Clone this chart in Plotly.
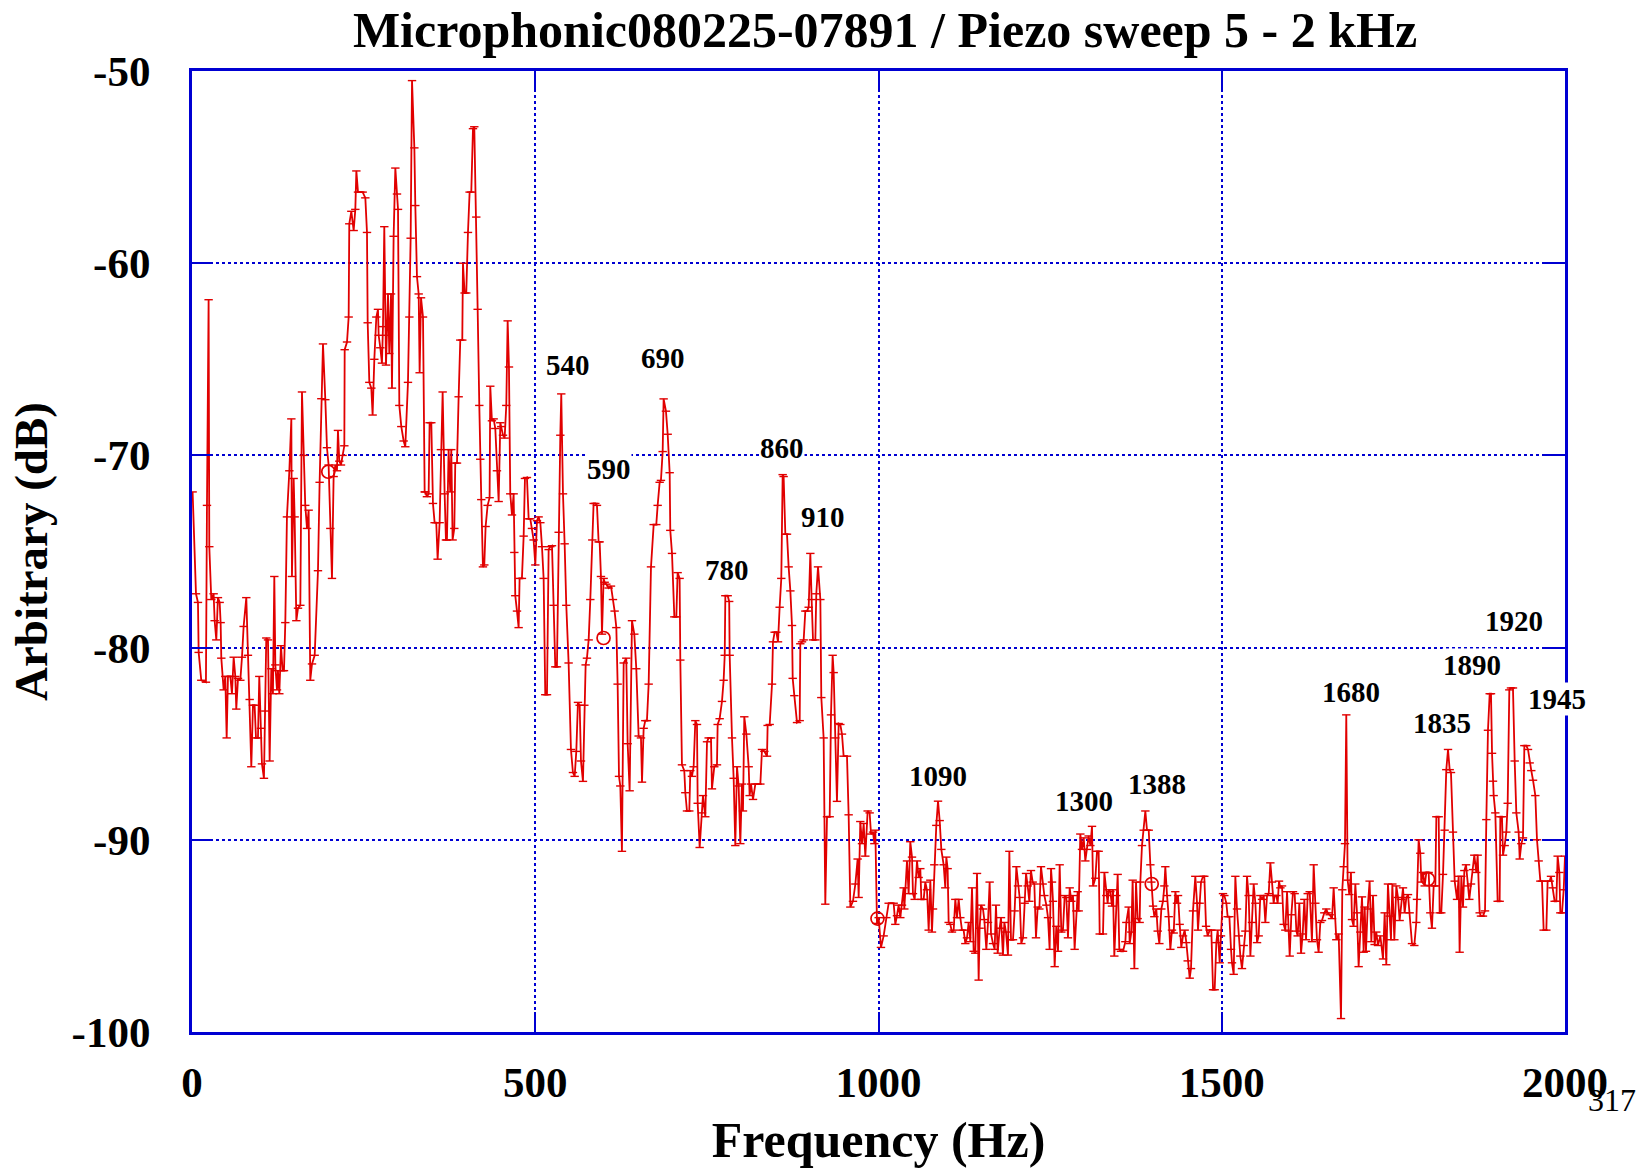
import plotly.graph_objects as go

# ---- data (frequency Hz, level dB) ----
seg_0_340 = [
    (0.9, -71.9), (5.8, -77.2), (8.7, -77.65), (9.7, -80.25), (13.5, -81.7), (20.3, -81.8),
    (21.8, -72.6), (24.2, -61.9), (25.2, -74.75), (28.1, -77.5), (31.5, -77.2), (33.0, -78.6),
    (35.4, -79.6), (37.8, -77.4), (40.3, -77.65), (41.7, -78.7), (42.7, -80.55), (46.1, -82.2),
    (48.5, -81.5), (50.5, -84.7), (52.4, -81.5), (55.8, -81.5), (58.2, -82.4), (60.7, -80.5),
    (63.1, -81.5), (64.5, -83.2), (67.0, -81.6), (70.4, -81.7), (72.8, -80.5), (75.2, -78.9),
    (79.1, -77.4), (81.5, -80.4), (84.0, -82.7), (86.4, -86.2), (88.8, -83.0), (91.2, -83.0),
    (93.2, -84.7), (96.1, -84.7), (98.0, -81.5), (100.5, -84.2), (101.9, -86.05), (104.8, -86.8),
    (106.8, -83.3), (108.2, -79.5), (110.7, -79.6), (113.1, -85.9), (115.5, -81.1), (117.9, -82.4),
    (119.9, -76.3), (121.4, -80.9), (123.8, -82.2), (125.2, -81.2), (127.2, -82.4), (129.6, -79.9),
    (132.0, -81.2), (134.0, -81.2), (135.9, -78.7), (138.3, -73.2), (141.8, -70.8), (144.7, -68.1),
    (145.6, -76.3), (148.1, -71.2), (149.5, -73.2), (152.0, -78.6), (154.4, -77.95), (157.8, -77.8),
    (160.2, -66.7), (162.6, -70.0), (165.0, -72.6), (167.5, -73.8), (169.9, -72.85), (172.3, -81.7),
    (174.8, -80.85), (178.7, -80.4), (183.5, -76.0), (185.9, -71.4), (188.4, -67.05), (190.8, -64.2),
    (194.2, -67.1), (196.6, -69.6), (199.0, -70.5), (201.5, -73.8), (203.9, -76.4), (206.3, -71.1),
    (208.8, -70.5), (211.2, -70.8), (212.6, -68.7), (214.6, -70.3), (217.0, -70.5), (219.4, -70.0),
    (221.9, -69.5), (222.4, -64.5), (225.8, -64.1), (228.2, -62.8), (229.1, -57.95), (232.1, -57.3),
    (235.5, -58.3), (237.9, -57.2), (239.4, -55.2), (241.8, -56.3), (245.2, -56.3), (248.6, -56.3),
    (252.5, -56.6), (254.9, -58.4), (255.9, -63.1), (258.3, -66.2), (261.2, -66.5), (263.1, -67.9),
    (265.6, -65.0), (268.5, -62.8), (270.9, -62.4), (271.9, -63.75), (274.3, -64.4), (276.7, -65.2),
    (278.2, -63.3), (280.1, -58.1), (282.6, -65.3), (284.0, -63.75), (285.5, -61.6), (287.4, -64.7),
    (289.9, -61.6), (291.3, -66.5), (293.7, -58.6), (296.2, -55.05), (298.6, -56.4), (300.1, -57.2),
    (302.0, -67.4), (304.9, -68.5), (308.3, -69.25), (310.7, -69.55), (314.6, -66.2), (316.6, -62.8),
    (318.5, -58.7), (320.5, -50.5), (323.9, -54.0), (325.3, -57.0), (327.7, -60.7), (330.2, -61.6),
    (331.6, -65.7), (333.6, -61.8), (336.5, -62.8), (338.9, -71.9),
]

seg_340_627 = [
    (339.8, -71.9), (342.2, -72.15), (344.7, -72.0), (346.1, -68.3), (348.6, -68.3), (351.0, -72.5),
    (353.4, -73.5), (355.8, -73.5), (357.8, -75.4), (360.7, -73.5), (362.6, -69.7), (365.1, -66.7),
    (368.0, -72.0), (369.9, -74.4), (371.4, -74.4), (373.8, -69.7), (376.2, -71.9), (377.7, -69.7),
    (379.6, -74.4), (382.1, -73.8), (383.5, -70.4), (386.0, -70.4), (388.4, -66.95), (390.8, -64.0),
    (393.7, -64.0), (394.7, -60.0), (397.1, -61.55), (399.5, -61.55), (402.0, -58.4), (404.4, -56.3),
    (406.8, -56.3), (409.3, -53.0), (411.2, -52.9), (414.1, -57.6), (416.1, -62.4), (418.5, -67.4),
    (419.9, -70.2), (421.4, -72.3), (423.8, -75.8), (425.8, -75.7), (427.7, -73.7), (430.6, -72.6),
    (433.5, -72.2), (434.5, -66.4), (436.9, -68.2), (439.4, -68.1), (441.8, -68.6), (444.2, -70.8),
    (446.7, -72.4), (449.1, -68.3), (450.5, -68.5), (453.0, -68.95), (455.4, -69.1), (457.8, -67.4),
    (459.8, -63.0), (461.7, -65.4), (463.6, -72.0), (466.1, -73.1), (468.5, -72.0), (469.5, -75.05),
    (470.9, -77.3), (473.4, -78.1), (475.8, -78.96), (477.2, -76.4), (480.6, -76.4), (483.1, -74.2),
    (485.0, -71.2), (487.9, -71.15), (490.4, -73.3), (492.8, -73.3), (495.2, -73.8), (497.6, -74.4),
    (500.1, -75.7), (502.5, -73.4), (504.9, -73.2), (507.4, -73.5), (509.8, -74.75), (512.2, -76.4),
    (514.6, -82.45), (517.1, -82.45), (519.5, -74.9), (521.9, -74.75), (524.4, -74.7), (526.8, -77.8),
    (529.2, -81.0), (531.6, -81.0), (534.1, -74.0), (536.5, -68.95), (537.9, -66.8), (540.4, -72.0),
    (542.8, -74.6), (545.2, -77.8), (548.6, -80.8), (552.0, -85.3), (554.9, -86.5), (557.4, -86.7),
    (559.8, -85.4), (562.2, -82.85), (564.7, -83.0), (566.6, -85.9), (569.5, -86.96), (571.5, -83.0),
    (573.4, -80.9), (575.3, -80.55), (577.8, -79.6), (580.2, -77.5), (583.1, -74.4), (585.0, -72.5),
    (587.5, -72.5), (589.9, -72.6), (592.3, -74.5), (593.8, -74.5), (595.7, -76.3), (597.2, -79.3),
    (599.6, -76.4), (601.1, -76.6), (603.5, -76.7), (606.9, -76.9), (610.3, -76.8), (613.2, -77.5),
    (615.6, -78.1), (618.1, -78.96), (620.0, -81.9), (622.0, -86.7), (623.9, -87.2), (626.3, -90.6),
]

seg_628_1000 = [
    (628.8, -80.8), (632.6, -80.55), (634.6, -85.0), (637.5, -87.45), (640.9, -78.6), (644.3, -79.3),
    (647.2, -81.1), (650.6, -84.6), (654.0, -84.7), (655.5, -87.0), (657.9, -84.2), (660.3, -83.8),
    (662.7, -83.8), (665.2, -81.9), (668.6, -75.8), (672.5, -73.6), (676.3, -73.6), (678.3, -72.6),
    (681.2, -71.4), (683.1, -71.3), (685.6, -69.8), (687.0, -67.06), (690.4, -67.7), (692.9, -68.9),
    (695.8, -70.9), (696.7, -73.9), (699.2, -75.1), (702.6, -78.4), (705.5, -78.4), (707.4, -76.1),
    (710.3, -76.4), (711.3, -80.65), (713.7, -86.1), (717.1, -86.4), (718.6, -87.55), (721.0, -88.5),
    (724.4, -88.5), (725.9, -86.4), (728.3, -86.7), (730.7, -86.2), (733.2, -83.8), (735.6, -84.0),
    (736.6, -88.1), (739.5, -90.4), (742.9, -88.6), (744.3, -87.7), (747.7, -88.8), (750.2, -84.9),
    (752.6, -84.7), (756.0, -84.7), (757.4, -87.35), (760.8, -86.2), (764.7, -86.1), (765.7, -84.0),
    (768.6, -83.7), (772.0, -82.8), (774.4, -81.7), (776.0, -80.4), (776.9, -77.3), (780.3, -77.3),
    (782.5, -77.6), (783.2, -80.4), (786.6, -84.7), (789.0, -86.8), (791.4, -90.3), (793.9, -86.2),
    (796.3, -87.2), (798.7, -90.2), (801.1, -87.1), (802.6, -88.5), (804.5, -83.6), (807.5, -84.5),
    (810.9, -86.2), (812.3, -87.7), (814.3, -87.1), (817.2, -87.9), (820.6, -87.1), (824.0, -87.1),
    (827.9, -87.1), (830.3, -85.3), (833.7, -85.4), (837.6, -85.65), (838.5, -84.05), (841.5, -84.0),
    (844.9, -81.9), (846.3, -79.7), (848.7, -79.2), (851.2, -79.2), (853.6, -79.7), (856.0, -77.9),
    (858.4, -76.4), (860.4, -71.0), (861.8, -71.1), (864.3, -74.1), (866.7, -74.1), (869.1, -75.8),
    (871.6, -77.05), (874.0, -78.85), (875.0, -81.6), (877.4, -82.5), (881.3, -83.9), (885.2, -83.8),
    (886.1, -79.8), (888.6, -79.7), (891.0, -79.6), (893.4, -78.1), (895.8, -78.1), (898.3, -77.9),
    (900.7, -75.1), (902.6, -77.5), (904.6, -79.6), (908.0, -79.6), (909.4, -77.2), (911.9, -75.8),
    (915.3, -77.5), (916.7, -82.6), (920.1, -84.7), (922.5, -93.35), (925.0, -88.8), (928.9, -88.8),
    (930.8, -83.5), (933.2, -80.4), (934.7, -81.3), (937.1, -84.7), (939.5, -88.0), (942.0, -83.95),
    (944.4, -84.0), (946.8, -84.5), (949.2, -85.65), (954.1, -85.65), (956.5, -88.7), (959.0, -93.5),
    (962.8, -93.2), (966.3, -92.3), (969.6, -91.0), (971.1, -93.0), (973.5, -89.05), (976.0, -90.2),
    (978.4, -89.15), (980.8, -90.85), (984.2, -88.5), (987.1, -88.6), (989.1, -89.7), (992.0, -89.6),
    (994.0, -90.2), (995.4, -89.5), (997.8, -94.35),
]

seg_1000_1292 = [
    (1000.2, -94.05), (1003.6, -95.6), (1007.5, -95.0), (1011.4, -94.05), (1014.8, -93.3),
    (1022.1, -93.3), (1024.5, -94.4), (1026.9, -93.95), (1029.3, -93.4), (1031.8, -94.05),
    (1034.2, -93.4), (1036.6, -92.5), (1037.6, -93.6), (1041.5, -91.1), (1043.9, -92.8),
    (1046.3, -90.1), (1048.8, -90.9), (1050.2, -92.8), (1052.7, -93.1), (1056.1, -91.1),
    (1058.5, -91.96), (1060.9, -91.5), (1062.4, -93.1), (1065.8, -93.1), (1068.2, -92.2),
    (1070.6, -92.6), (1073.1, -94.7), (1075.5, -92.1), (1077.9, -94.8), (1079.4, -93.6),
    (1081.3, -91.3), (1084.2, -89.25), (1086.7, -87.99), (1089.1, -89.0), (1091.5, -90.5),
    (1094.9, -91.3), (1097.3, -92.5), (1098.8, -90.9), (1100.7, -91.5), (1102.2, -94.3),
    (1104.6, -94.4), (1107.0, -94.8), (1109.5, -94.7), (1111.9, -93.1), (1114.3, -94.05),
    (1116.8, -93.1), (1119.2, -94.05), (1121.6, -94.7), (1124.0, -94.7), (1126.5, -95.4),
    (1128.9, -95.1), (1131.3, -94.3), (1133.8, -95.3), (1136.2, -92.5), (1138.6, -95.8),
    (1141.0, -95.9), (1143.5, -91.75), (1145.9, -97.3), (1147.3, -94.6), (1149.3, -93.4),
    (1152.2, -93.6), (1154.1, -94.15), (1157.1, -95.7), (1159.5, -94.3), (1161.9, -92.2),
    (1163.9, -94.9), (1166.8, -95.4), (1169.2, -95.7), (1171.1, -93.4), (1173.6, -95.9),
    (1176.5, -94.6), (1178.4, -94.05), (1181.3, -96.0), (1183.3, -94.3), (1185.7, -94.8),
    (1188.6, -96.0), (1190.6, -90.6), (1193.0, -95.2), (1195.9, -95.2), (1198.3, -93.7),
    (1200.8, -91.4), (1203.2, -92.4), (1205.6, -93.0), (1208.0, -95.4), (1210.5, -95.1),
    (1212.9, -93.3), (1214.9, -91.75), (1217.3, -92.4), (1219.7, -93.2), (1222.1, -91.6),
    (1224.6, -92.2), (1227.0, -92.3), (1229.4, -95.1), (1231.9, -93.5), (1234.3, -93.6),
    (1236.7, -91.4), (1239.1, -92.3), (1241.6, -92.9), (1244.5, -93.4), (1246.9, -94.05),
    (1249.3, -95.7), (1251.3, -91.5), (1252.7, -92.2), (1254.2, -93.2), (1256.6, -96.6),
    (1259.0, -94.5), (1261.5, -95.8), (1263.9, -91.3), (1266.3, -94.8), (1268.7, -94.7),
    (1271.2, -92.9), (1273.6, -93.0), (1276.0, -95.1), (1278.5, -92.5), (1280.9, -93.2),
    (1283.3, -92.9), (1285.7, -95.7), (1288.2, -93.7), (1290.1, -92.7), (1291.6, -93.7),
]

seg_1294_1628 = [
    (1294.0, -89.7), (1296.4, -90.5), (1298.9, -89.9), (1301.3, -91.1), (1303.7, -90.5),
    (1306.1, -89.8), (1308.6, -90.3), (1311.0, -89.3), (1312.5, -92.4), (1315.9, -92.0),
    (1318.3, -90.6), (1320.7, -90.6), (1322.2, -94.9), (1327.0, -94.9), (1329.0, -91.7),
    (1331.9, -92.9), (1333.8, -93.3), (1335.3, -92.6), (1337.7, -92.7), (1340.1, -93.45),
    (1341.6, -92.6), (1343.5, -96.05), (1346.4, -92.9), (1348.4, -91.8), (1350.8, -95.7),
    (1353.2, -95.8), (1356.2, -95.8), (1359.6, -95.3), (1361.0, -94.3), (1364.4, -93.5),
    (1365.9, -95.4), (1368.3, -94.8), (1370.2, -92.1), (1372.7, -96.7), (1375.1, -92.2),
    (1377.5, -94.1), (1380.4, -94.3), (1381.4, -92.2), (1383.8, -90.3), (1386.3, -89.5),
    (1388.7, -88.5), (1391.1, -89.5), (1393.6, -89.5), (1396.0, -91.3), (1397.4, -92.2),
    (1399.9, -93.45), (1401.8, -94.0), (1404.7, -93.6), (1406.7, -94.75), (1409.1, -95.4),
    (1412.0, -93.6), (1414.4, -93.2), (1416.4, -92.4), (1417.8, -91.4), (1420.3, -92.9),
    (1422.7, -94.0), (1425.1, -95.7), (1427.5, -94.7), (1430.0, -94.85), (1432.4, -92.7),
    (1434.8, -93.3), (1436.3, -92.9), (1438.7, -94.4), (1441.1, -95.6), (1443.6, -95.0),
    (1446.0, -94.7), (1448.4, -95.35), (1450.4, -96.3), (1453.3, -97.2), (1455.2, -96.7),
    (1458.1, -93.7), (1461.5, -91.9), (1464.0, -93.3), (1465.4, -94.7), (1467.8, -93.3),
    (1469.8, -92.2), (1472.7, -91.9), (1474.6, -91.9), (1477.1, -94.5), (1479.5, -95.0),
    (1482.4, -94.7), (1484.8, -94.7), (1487.3, -97.8), (1489.7, -97.8), (1492.1, -95.35),
    (1494.1, -94.7), (1497.0, -96.4), (1498.9, -95.0), (1501.8, -92.8), (1503.8, -92.9),
    (1506.7, -93.3), (1508.6, -94.0), (1511.1, -94.0), (1513.5, -95.7), (1514.9, -96.4),
    (1517.4, -97.0), (1519.8, -91.9), (1522.2, -93.6), (1524.7, -95.0), (1527.1, -96.05),
    (1529.5, -96.7), (1532.0, -95.5), (1534.4, -94.75), (1536.8, -91.9), (1539.2, -92.9),
    (1541.7, -96.05), (1544.1, -94.3), (1546.5, -92.3), (1549.0, -93.3), (1551.4, -95.35),
    (1553.8, -95.0), (1556.2, -92.9), (1558.7, -93.1), (1561.1, -92.9), (1563.5, -94.3),
    (1566.0, -92.9), (1568.4, -92.8), (1570.8, -91.2), (1573.2, -92.2), (1575.6, -93.3),
    (1577.1, -92.9), (1579.5, -92.9), (1581.5, -93.3), (1583.4, -92.15), (1585.4, -92.5),
    (1587.8, -92.4), (1590.2, -94.4), (1592.6, -94.7), (1595.1, -92.7), (1597.5, -94.75),
    (1599.0, -96.05), (1601.4, -93.9), (1603.8, -92.7), (1606.2, -92.8), (1608.7, -94.75),
    (1610.6, -95.0), (1613.0, -93.3), (1615.5, -95.9), (1617.9, -94.9), (1620.3, -93.1),
    (1622.8, -95.2), (1625.2, -92.8), (1628.1, -92.7),
]

seg_1630_2000 = [
    (1631.4, -95.3), (1633.9, -91.3), (1636.3, -93.3), (1638.7, -95.2), (1641.1, -95.85),
    (1643.6, -94.3), (1646.0, -94.2), (1649.4, -93.8), (1652.3, -93.6), (1654.3, -93.8),
    (1657.2, -93.9), (1660.6, -94.1), (1663.0, -92.5), (1666.9, -95.2), (1670.3, -94.9),
    (1673.7, -99.3), (1675.6, -92.6), (1677.6, -91.4), (1679.5, -90.2), (1681.4, -83.5),
    (1683.4, -92.1), (1685.8, -92.85), (1688.2, -91.7), (1689.7, -94.15), (1692.1, -94.5),
    (1694.6, -92.3), (1697.0, -93.8), (1699.4, -96.6), (1701.8, -94.8), (1704.3, -92.97),
    (1706.7, -95.85), (1708.2, -93.5), (1710.1, -95.8), (1712.5, -93.6), (1715.4, -92.15),
    (1717.9, -95.3), (1720.3, -92.9), (1722.7, -95.45), (1725.1, -94.8), (1727.6, -95.5),
    (1731.0, -95.0), (1734.9, -96.2), (1737.3, -93.8), (1739.7, -96.5), (1742.1, -92.3),
    (1744.6, -93.97), (1746.5, -95.2), (1748.5, -92.3), (1751.4, -95.2), (1754.3, -92.4),
    (1756.7, -93.0), (1759.1, -94.2), (1761.6, -93.1), (1764.0, -92.5), (1766.4, -93.8),
    (1768.9, -93.0), (1771.3, -92.85), (1773.7, -93.8), (1777.1, -95.4), (1780.5, -95.5),
    (1783.4, -94.3), (1784.4, -93.1), (1786.8, -90.0), (1789.2, -90.7), (1790.7, -92.2),
    (1793.1, -91.7), (1795.6, -92.4), (1798.0, -91.7), (1801.4, -91.7), (1803.8, -93.8),
    (1806.2, -94.6), (1808.7, -92.4), (1811.1, -92.4), (1812.6, -88.8), (1816.0, -88.8),
    (1817.4, -93.8), (1819.8, -93.8), (1822.3, -91.8), (1824.7, -89.5), (1827.1, -86.35),
    (1829.6, -85.3), (1832.0, -86.35), (1833.9, -86.5), (1836.8, -89.6), (1839.3, -92.15),
    (1842.7, -93.1), (1845.1, -91.9), (1846.5, -95.85), (1849.0, -91.9), (1851.4, -93.5),
    (1853.4, -91.6), (1855.8, -91.3), (1858.2, -92.4), (1860.6, -93.1), (1863.1, -92.3),
    (1866.0, -91.55), (1867.9, -90.8), (1870.8, -91.7), (1872.8, -90.8), (1875.7, -93.8),
    (1877.6, -93.97), (1880.5, -93.97), (1883.5, -93.7), (1885.4, -88.95), (1887.8, -84.3),
    (1890.3, -82.4), (1892.2, -82.4), (1893.7, -85.5), (1895.1, -86.95), (1896.1, -87.7),
    (1898.5, -88.6), (1901.9, -93.2), (1904.8, -93.2), (1905.8, -88.8), (1908.2, -88.8),
    (1909.7, -90.8), (1912.1, -90.3), (1914.5, -89.6), (1916.5, -88.1), (1918.9, -82.2),
    (1921.3, -82.1), (1924.2, -82.1), (1926.7, -85.9), (1929.1, -88.6), (1932.5, -89.6),
    (1934.0, -91.0), (1936.4, -90.2), (1938.8, -89.9), (1940.8, -85.1), (1943.7, -85.1),
    (1946.1, -85.3), (1948.5, -86.0), (1950.9, -86.4), (1953.4, -86.9), (1956.8, -87.7),
    (1959.2, -90.0), (1961.6, -91.1), (1964.1, -92.15), (1966.5, -92.15), (1968.9, -94.7),
    (1972.8, -94.7), (1974.7, -92.15), (1977.7, -92.15), (1979.6, -91.9), (1982.0, -92.5),
    (1984.9, -93.2), (1987.4, -93.2), (1989.3, -90.85), (1991.8, -91.7), (1993.2, -93.8),
    (1995.6, -93.8), (1998.1, -92.6), (2000.0, -90.85),
]

# open-circle markers on the trace
circle_hz = [198.5, 599.5, 998.5, 1398.0, 1800.5]
circle_db = [-70.85, -79.5, -94.1, -92.3, -92.05]

# peak labels
peak_text = ["540", "590", "690", "780", "860", "910", "1090", "1300", "1388",
             "1680", "1835", "1890", "1920", "1945"]
peak_hz = [547.4, 607.0, 686.5, 779.7, 859.1, 918.7, 1086.8, 1299.2, 1406.2,
           1688.8, 1820.3, 1864.6, 1925.7, 1988.3]
peak_db = [-65.28, -70.73, -64.95, -75.97, -69.6, -73.2, -86.67, -88.0, -87.1,
           -82.3, -83.9, -80.9, -78.6, -82.7]

x_ticks = [0, 500, 1000, 1500, 2000]
y_ticks = [-100, -90, -80, -70, -60, -50]

title_text = "Microphonic080225-07891 / Piezo sweep 5 - 2 kHz"
x_title = "Frequency (Hz)"
y_title = "Arbitrary (dB)"
page_no = "317"

# ---- build ----
pts = seg_0_340 + seg_340_627 + seg_628_1000 + seg_1000_1292 + seg_1294_1628 + seg_1630_2000
hz = [p[0] for p in pts]
db = [p[1] for p in pts]

RED = "rgb(225,0,0)"
BLUE = "rgb(0,0,210)"
FONT = "Liberation Serif"

fig = go.Figure()
fig.add_trace(go.Scatter(
    x=hz, y=db, mode="lines+markers",
    line=dict(color=RED, width=1.8),
    marker=dict(symbol="line-ew", size=6, line=dict(color=RED, width=1.4)),
    showlegend=False, hoverinfo="x+y",
))
fig.add_trace(go.Scatter(
    x=circle_hz, y=circle_db, mode="markers",
    marker=dict(symbol="circle-open", size=13, line=dict(color=RED, width=1.7), color=RED),
    showlegend=False,
))

for t, xv, yv in zip(peak_text, peak_hz, peak_db):
    fig.add_annotation(x=xv, y=yv, text=t, showarrow=False, xref="x", yref="y",
                       font=dict(family=FONT, size=29, color="black", weight="bold"),
                       xanchor="center", yanchor="middle", bgcolor="white", borderpad=0)

fig.add_annotation(x=1.0345, y=-0.071, xref="paper", yref="paper", text=page_no,
                   showarrow=False, font=dict(family=FONT, size=32, color="black"),
                   xanchor="center", yanchor="middle")

axis_common = dict(
    showline=True, linecolor=BLUE, linewidth=3, mirror="ticks",
    ticks="inside", ticklen=20, tickwidth=2, tickcolor=BLUE,
    showgrid=True, gridcolor=BLUE, gridwidth=2, griddash="dot",
    zeroline=False,
    tickfont=dict(family=FONT, size=43, color="black", weight="bold"),
)

fig.update_layout(
    width=1645, height=1172,
    margin=dict(l=192, r=80, t=71, b=140),
    paper_bgcolor="white", plot_bgcolor="white",
    title=dict(text=title_text, x=0.538, xanchor="center", y=0.975, yanchor="middle",
               xref="container", yref="container",
               font=dict(family=FONT, size=50, color="black", weight="bold")),
    xaxis=dict(range=[0, 2000], tickvals=x_ticks, ticktext=[str(v) for v in x_ticks],
               ticklabelstandoff=10,
               title=dict(text=x_title, standoff=18,
                          font=dict(family=FONT, size=50, color="black", weight="bold")),
               **axis_common),
    yaxis=dict(range=[-100, -50], tickvals=y_ticks, ticktext=[str(v) for v in y_ticks],
               ticklabelstandoff=30,
               title=dict(text=y_title, standoff=10,
                          font=dict(family=FONT, size=47, color="black", weight="bold")),
               **axis_common),
)

fig.write_html("out.html")
